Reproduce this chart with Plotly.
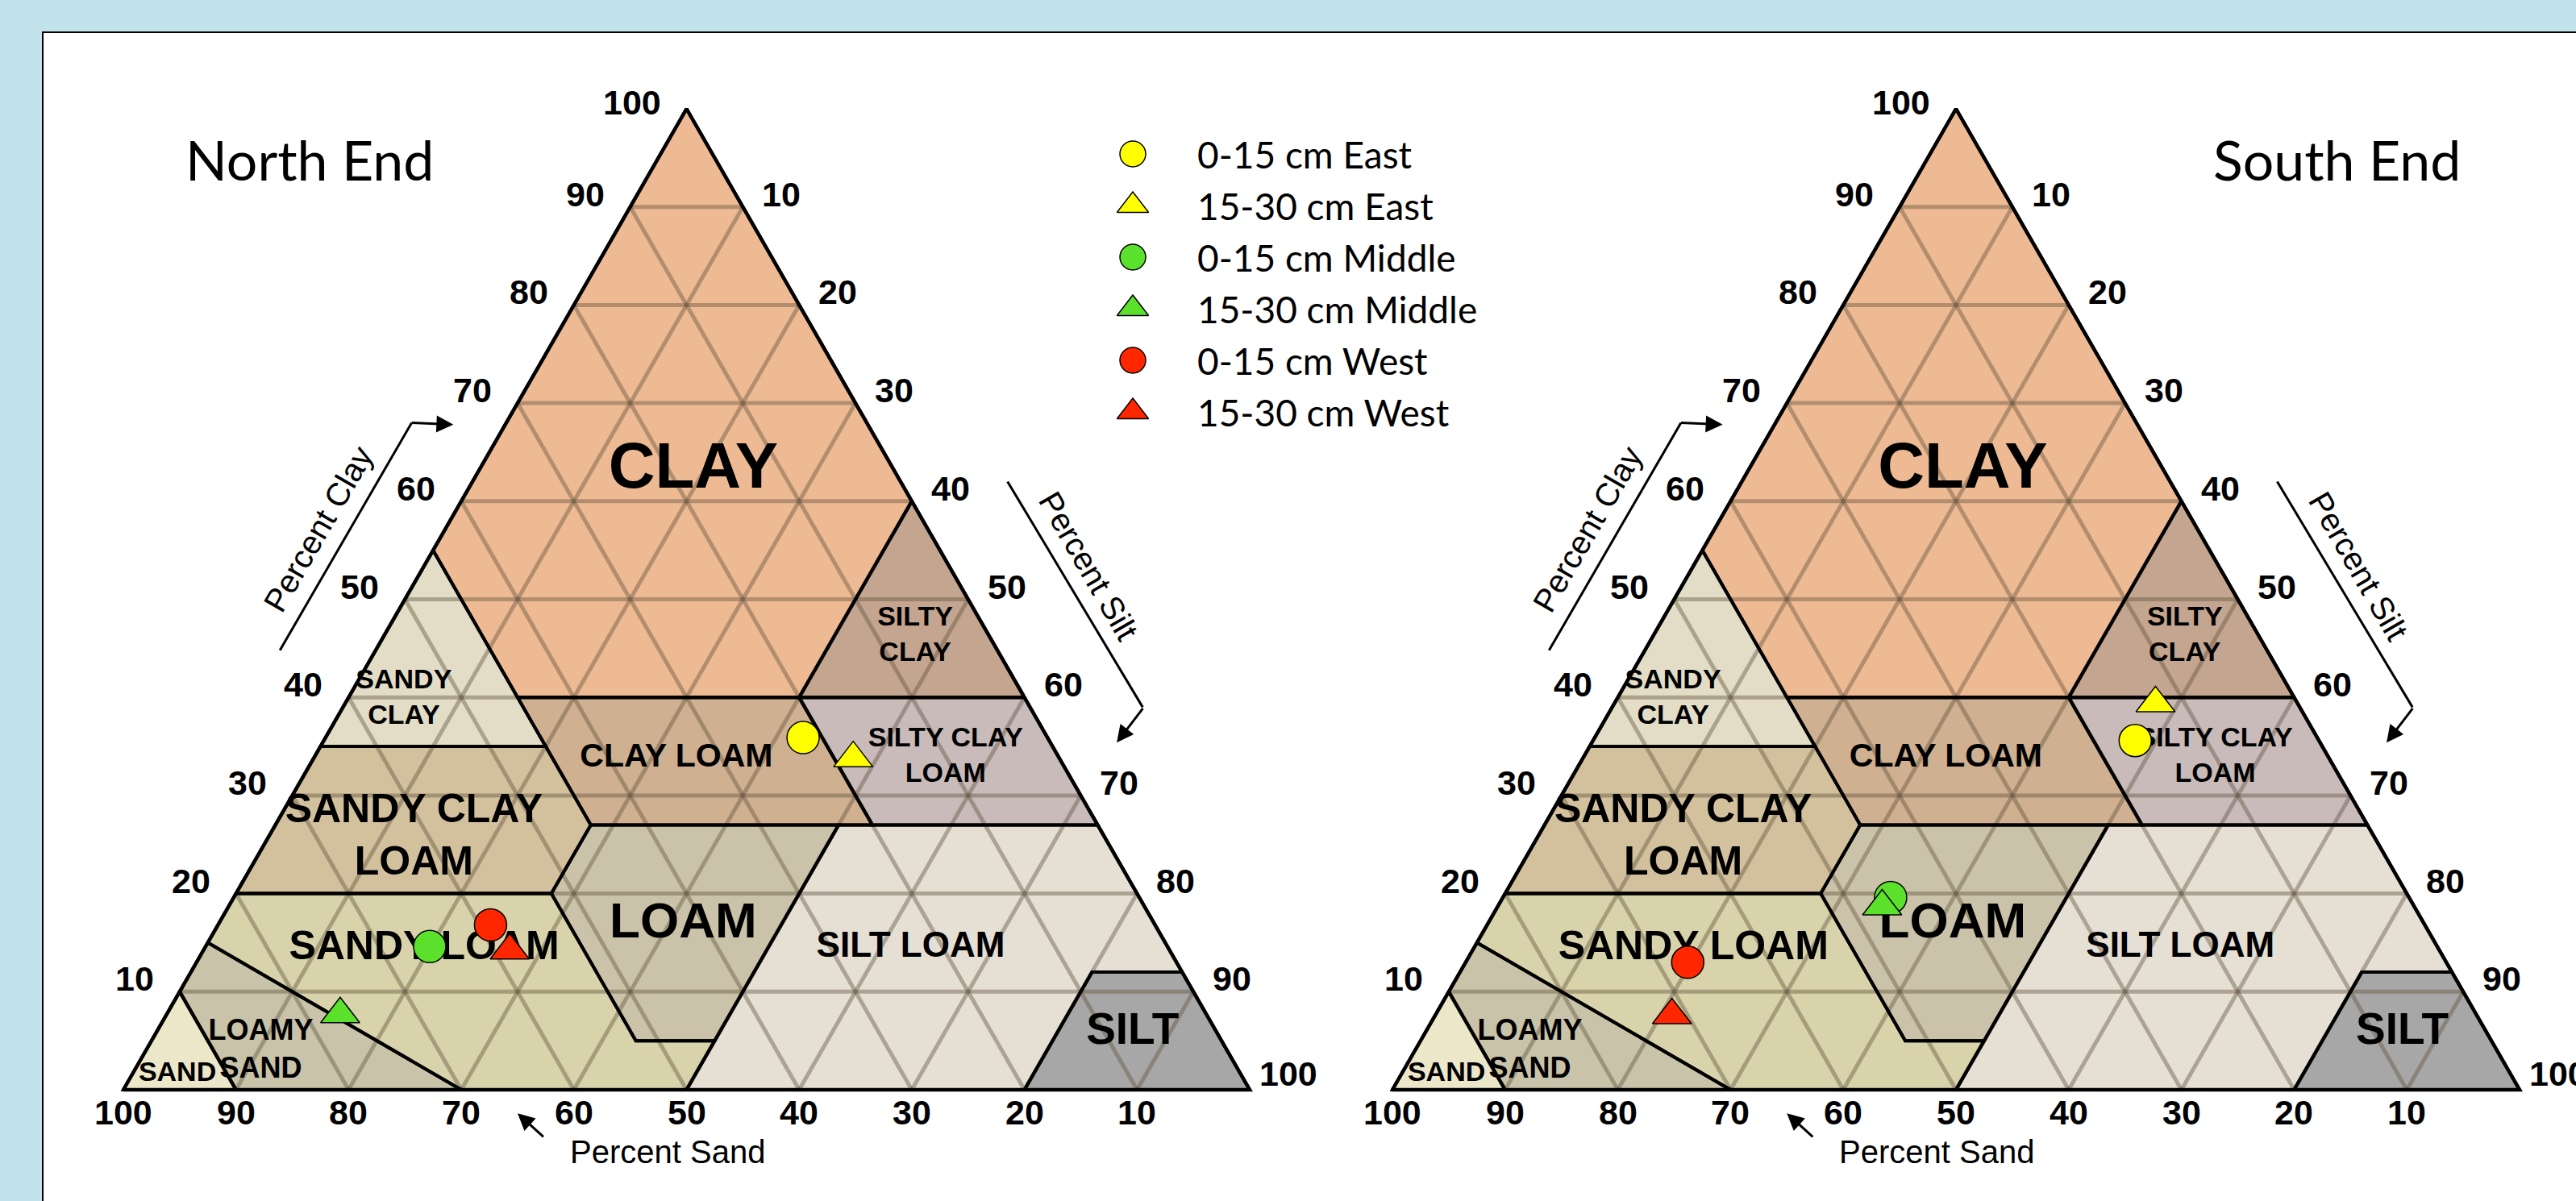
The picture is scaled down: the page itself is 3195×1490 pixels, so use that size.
import plotly.graph_objects as go

W, H = 3195, 1490

# ---------------- data ----------------
series_names = ["0-15 cm East", "15-30 cm East", "0-15 cm Middle",
                "15-30 cm Middle", "0-15 cm West", "15-30 cm West"]
series_colors = ["#FFFF00", "#FFFF00", "#5BE12C", "#5BE12C", "#FF2600", "#FF2600"]
series_symbols = ["circle", "triangle-up", "circle", "triangle-up", "circle", "triangle-up"]

# percent sand / percent clay of each sample (silt = 100 - sand - clay)
north_sand = [21.7, 18.3, 65.5, 76.9, 59.0, 58.6]
north_clay = [35.9, 33.8, 14.6, 7.7, 16.8, 14.2]
south_sand = [16.3, 12.6, 46.0, 47.2, 67.3, 71.4]
south_clay = [35.6, 39.4, 19.6, 18.7, 13.0, 7.6]

# soil texture classes: vertices as (percent sand, percent clay)
class_names = ["CLAY", "SILTY CLAY", "SANDY CLAY", "CLAY LOAM", "SILTY CLAY LOAM",
               "SANDY CLAY LOAM", "LOAM", "SILT LOAM", "SANDY LOAM", "LOAMY SAND",
               "SAND", "SILT"]
class_sand = [
    [0, 0, 20, 45, 45],
    [0, 0, 20],
    [45, 65, 45],
    [20, 45, 45, 20],
    [0, 0, 20, 20],
    [65, 80, 52, 45, 45],
    [45, 23, 45, 52, 52],
    [23, 0, 0, 8, 20, 50],
    [80, 52, 52, 45, 50, 70, 85],
    [85, 70, 90, 90],
    [90, 90, 100],
    [0, 0, 20, 8],
]
class_clay = [
    [100, 60, 40, 40, 55],
    [60, 40, 40],
    [55, 35, 35],
    [40, 40, 27, 27],
    [40, 27, 27, 40],
    [35, 20, 20, 27, 35],
    [27, 27, 5, 5, 20],
    [27, 27, 12, 12, 0, 0],
    [20, 20, 5, 5, 0, 0, 15],
    [15, 0, 0, 10],
    [10, 0, 0],
    [12, 0, 0, 12],
]
class_colors = ["#EEBA94", "#C4A590", "#E3DDC7", "#CFB091", "#C9BBBA",
                "#D3C19E", "#CBC3A9", "#E5DFD4", "#D8D3AB", "#C9C3A9",
                "#EDE7CA", "#A7A7A7"]

tick_values = [10, 20, 30, 40, 50, 60, 70, 80, 90, 100]
grid_values = [10, 20, 30, 40, 50, 60, 70, 80, 90]

# ---------------- styling / layout helpers ----------------
# class label placement in triangle plot units (x: 0..100 along base, y: clay)
label_pos = {
    "CLAY": (50.6, 63.0, "CLAY", 80),
    "SILTY CLAY": (70.3, 46.2, "SILTY<br>CLAY", 34),
    "SANDY CLAY": (24.9, 39.8, "SANDY<br>CLAY", 34),
    "CLAY LOAM": (49.1, 33.8, "CLAY LOAM", 41),
    "SILTY CLAY LOAM": (73.0, 33.9, "SILTY CLAY<br>LOAM", 34),
    "SANDY CLAY LOAM": (25.8, 25.6, "SANDY CLAY<br>LOAM", 50),
    "LOAM": (49.7, 16.8, "LOAM", 62),
    "SILT LOAM": (69.9, 14.5, "SILT LOAM", 44),
    "SANDY LOAM": (26.7, 14.3, "SANDY LOAM", 50),
    "LOAMY SAND": (12.2, 3.9, "LOAMY<br>SAND", 36),
    "SAND": (4.8, 1.6, "SAND", 34),
    "SILT": (89.6, 5.8, "SILT", 55),
}


def to_xy(sand, clay):
    xs = [100 - s - c / 2 for s, c in zip(sand, clay)]
    ys = list(clay)
    return xs, ys


ARIAL = "Liberation Sans, Arial, sans-serif"
CAL = "Lato, Open Sans, sans-serif"

fig = go.Figure()
annotations = []
shapes = []

# white panel
shapes.append(dict(type="rect", xref="paper", yref="paper",
                   x0=53 / W, x1=1.02, y0=-0.02, y1=1 - 40 / H,
                   fillcolor="white", line=dict(color="black", width=2), layer="below"))

panels = [
    ("x", north_sand, north_clay),
    ("x2", south_sand, south_clay),
]

for ax, s_sand, s_clay in panels:
    # fills
    for name, sd, cl, col in zip(class_names, class_sand, class_clay, class_colors):
        xs, ys = to_xy(sd, cl)
        fig.add_trace(go.Scatter(x=xs + [xs[0]], y=ys + [ys[0]], mode="lines",
                                 fill="toself", fillcolor=col, line=dict(width=0),
                                 xaxis=ax, yaxis="y", hoverinfo="skip", showlegend=False))
    # grid
    gx, gy = [], []
    for k in grid_values:
        xs, ys = to_xy([100 - k, 0], [k, k]); gx += xs + [None]; gy += ys + [None]
        xs, ys = to_xy([k, k], [0, 100 - k]); gx += xs + [None]; gy += ys + [None]
        xs, ys = to_xy([100 - k, 0], [0, 100 - k]); gx += xs + [None]; gy += ys + [None]
    fig.add_trace(go.Scatter(x=gx, y=gy, mode="lines",
                             line=dict(color="rgba(95,80,60,0.42)", width=5),
                             xaxis=ax, yaxis="y", hoverinfo="skip", showlegend=False))
    # class boundaries
    bx, by = [], []
    for sd, cl in zip(class_sand, class_clay):
        xs, ys = to_xy(sd, cl)
        bx += xs + [xs[0], None]; by += ys + [ys[0], None]
    fig.add_trace(go.Scatter(x=bx, y=by, mode="lines",
                             line=dict(color="black", width=4),
                             xaxis=ax, yaxis="y", hoverinfo="skip", showlegend=False))
    # outer triangle
    xs, ys = to_xy([100, 0, 0], [0, 0, 100])
    fig.add_trace(go.Scatter(x=xs + [xs[0]], y=ys + [ys[0]], mode="lines",
                             line=dict(color="black", width=4.5),
                             xaxis=ax, yaxis="y", hoverinfo="skip", showlegend=False))
    # class labels
    lx = [label_pos[n][0] for n in class_names]
    ly = [label_pos[n][1] for n in class_names]
    lt = [label_pos[n][2] for n in class_names]
    ls = [label_pos[n][3] for n in class_names]
    fig.add_trace(go.Scatter(x=lx, y=ly, text=lt, mode="text",
                             textfont=dict(family=ARIAL, size=ls, color="black", weight="bold"),
                             textposition="middle center",
                             xaxis=ax, yaxis="y", hoverinfo="skip", showlegend=False))
    # samples
    xs, ys = to_xy(s_sand, s_clay)
    for i, nm in enumerate(series_names):
        sym = series_symbols[i]
        fig.add_trace(go.Scatter(x=[xs[i]], y=[ys[i]], mode="markers", name=nm,
                                 marker=dict(symbol=sym, size=40 if sym == "circle" else 42,
                                             color=series_colors[i],
                                             line=dict(color="black", width=1.5)),
                                 xaxis=ax, yaxis="y", showlegend=False, cliponaxis=False))
    # tick labels
    tf = dict(family=ARIAL, size=43, color="black", weight="bold")
    for k in tick_values:
        cx, cy = to_xy([100 - k], [k])
        annotations.append(dict(x=cx[0], y=cy[0], xref=ax, yref="y", text=str(k), showarrow=False,
                                xanchor="right", yanchor="middle", xshift=-30,
                                yshift=8 if k == 100 else 16, font=tf))
        sx, sy = to_xy([0], [100 - k])
        annotations.append(dict(x=sx[0], y=sy[0], xref=ax, yref="y", text=str(k), showarrow=False,
                                xanchor="left", yanchor="middle", xshift=10 if k == 100 else 22,
                                yshift=20 if k == 100 else 16, font=tf))
        bx_, by_ = to_xy([k], [0])
        annotations.append(dict(x=bx_[0], y=by_[0], xref=ax, yref="y", text=str(k), showarrow=False,
                                xanchor="center", yanchor="middle", yshift=-28, font=tf))
    # axis titles
    af = dict(family=ARIAL, size=40, color="black")
    annotations.append(dict(x=17.3, y=57.2, xref=ax, yref="y", text="Percent Clay", showarrow=False,
                            textangle=-60, font=af))
    annotations.append(dict(x=85.7, y=53.4, xref=ax, yref="y", text="Percent Silt", showarrow=False,
                            textangle=60, font=af))
    annotations.append(dict(x=48.3, y=-6.3, xref=ax, yref="y", text="Percent Sand", showarrow=False,
                            font=af))
    # axis title arrows
    shapes.append(dict(type="line", xref=ax, yref="y", x0=13.9, y0=44.8, x1=25.6, y1=68.0,
                       line=dict(color="black", width=3)))
    annotations.append(dict(x=29.3, y=67.8, ax=25.5, ay=68.0, xref=ax, yref="y", axref=ax, ayref="y",
                            text="", showarrow=True, arrowhead=2, arrowsize=1.4, arrowwidth=3,
                            arrowcolor="black"))
    shapes.append(dict(type="line", xref=ax, yref="y", x0=78.5, y0=62.0, x1=90.5, y1=39.0,
                       line=dict(color="black", width=3)))
    annotations.append(dict(x=88.2, y=35.4, ax=90.6, ay=39.0, xref=ax, yref="y", axref=ax, ayref="y",
                            text="", showarrow=True, arrowhead=2, arrowsize=1.4, arrowwidth=3,
                            arrowcolor="black"))
    annotations.append(dict(x=35.0, y=-2.4, ax=37.4, ay=-4.9, xref=ax, yref="y", axref=ax, ayref="y",
                            text="", showarrow=True, arrowhead=2, arrowsize=1.4, arrowwidth=3,
                            arrowcolor="black"))

# titles
annotations.append(dict(x=228, y=197, xref="x3", yref="y3", text="North End", showarrow=False,
                        xanchor="left", yanchor="middle", font=dict(family=CAL, size=68, color="black")))
annotations.append(dict(x=2743, y=197, xref="x3", yref="y3", text="South End", showarrow=False,
                        xanchor="left", yanchor="middle", font=dict(family=CAL, size=68, color="black")))

# manual legend (rows derived from series order)
leg_x, leg_y0, leg_dy = 1405, 191, 64
for i, nm in enumerate(series_names):
    sym = series_symbols[i]
    fig.add_trace(go.Scatter(x=[leg_x], y=[leg_y0 + leg_dy * i], mode="markers", name=nm,
                             marker=dict(symbol=sym, size=32 if sym == "circle" else 34,
                                         color=series_colors[i], line=dict(color="black", width=1.5)),
                             xaxis="x3", yaxis="y3", showlegend=False, hoverinfo="skip"))
    annotations.append(dict(x=1483, y=leg_y0 + leg_dy * i, xref="x3", yref="y3", text=nm,
                            showarrow=False, xanchor="left", yanchor="middle",
                            font=dict(family=CAL, size=46, color="black")))

sx_l, sx_r = 13.97, 13.98
sy = 12.17
fig.update_layout(
    width=W, height=H, margin=dict(l=0, r=0, t=0, b=0),
    paper_bgcolor="#C3E3EC", plot_bgcolor="rgba(0,0,0,0)",
    showlegend=False,
    xaxis=dict(domain=[0, 1], range=[-153 / sx_l, (W - 153) / sx_l], visible=False, fixedrange=True),
    xaxis2=dict(overlaying="x", range=[-1727 / sx_r, (W - 1727) / sx_r], visible=False, fixedrange=True),
    xaxis3=dict(overlaying="x", range=[0, W], visible=False, fixedrange=True),
    yaxis=dict(domain=[0, 1], range=[(1352 - H) / sy, 1352 / sy], visible=False, fixedrange=True),
    yaxis3=dict(overlaying="y", range=[H, 0], visible=False, fixedrange=True),
    annotations=annotations, shapes=shapes,
)

fig.write_html("out.html")
